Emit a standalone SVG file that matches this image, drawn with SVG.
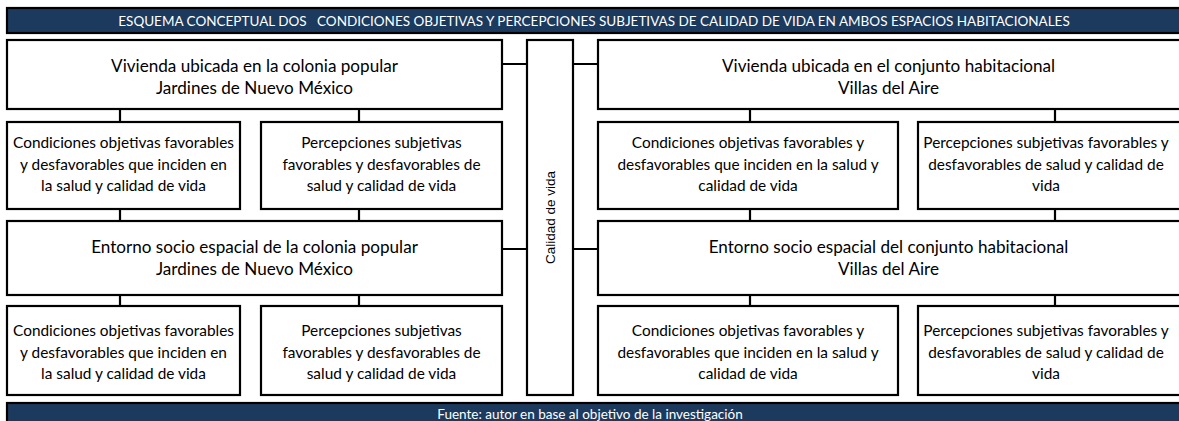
<svg xmlns="http://www.w3.org/2000/svg" width="1179" height="421" viewBox="0 0 1179 421">
<style>
.box{fill:#fff;stroke:#000;stroke-width:2.2}
.bar{fill:#1c3a5e;stroke:#000;stroke-width:2.2}
.conn{stroke:#000;stroke-width:2.2;fill:none}
.big{font-family:Lato,"Liberation Sans",sans-serif;font-size:17.1px;fill:#000;text-anchor:middle}
.small{font-family:Lato,"Liberation Sans",sans-serif;font-size:15.4px;fill:#000;text-anchor:middle}
.bartext{font-family:Lato,"Liberation Sans",sans-serif;font-size:13.5px;fill:#fff;text-anchor:middle}
.vert{font-family:"Liberation Sans",Arial,sans-serif;font-size:13.5px;fill:#000;text-anchor:middle}
</style>
<rect width="1179" height="421" fill="#fff"/>
<g id="header">
<rect class="bar" x="7" y="8" width="1175" height="25"/>
<text class="bartext" x="594" y="25.5" xml:space="preserve">ESQUEMA CONCEPTUAL DOS   CONDICIONES OBJETIVAS Y PERCEPCIONES SUBJETIVAS DE CALIDAD DE VIDA EN AMBOS ESPACIOS HABITACIONALES</text>
</g>
<g id="connectors">
<path class="conn" d="M120 109V122M359 109V122M120 209V221M359 209V221M120 295V306M359 295V306"/>
<path class="conn" d="M750 109V122M1055 109V122M750 209V221M1055 209V221M750 295V306M1055 295V306"/>
<path class="conn" d="M502 64H527M573 64H598M502 249H527M573 249H598"/>
</g>
<g id="vivienda-jardines">
<rect class="box" x="7" y="40" width="495" height="69"/>
<text class="big" x="254.5" y="72">Vivienda ubicada en la colonia popular</text>
<text class="big" x="254.5" y="94">Jardines de Nuevo México</text>
</g>
<g id="cond-vivienda-jardines">
<rect class="box" x="7" y="122" width="233" height="87"/>
<text class="small" x="123.5" y="148">Condiciones objetivas favorables</text>
<text class="small" x="123.5" y="169.5">y desfavorables que inciden en</text>
<text class="small" x="123.5" y="191">la salud y calidad de vida</text>
</g>
<g id="perc-vivienda-jardines">
<rect class="box" x="261" y="122" width="241" height="87"/>
<text class="small" x="381.5" y="148">Percepciones subjetivas</text>
<text class="small" x="381.5" y="169.5">favorables y desfavorables de</text>
<text class="small" x="381.5" y="191">salud y calidad de vida</text>
</g>
<g id="entorno-jardines">
<rect class="box" x="7" y="221" width="495" height="74"/>
<text class="big" x="254.5" y="253">Entorno socio espacial de la colonia popular</text>
<text class="big" x="254.5" y="275">Jardines de Nuevo México</text>
</g>
<g id="cond-entorno-jardines">
<rect class="box" x="7" y="306" width="233" height="89"/>
<text class="small" x="123.5" y="336">Condiciones objetivas favorables</text>
<text class="small" x="123.5" y="357.5">y desfavorables que inciden en</text>
<text class="small" x="123.5" y="379">la salud y calidad de vida</text>
</g>
<g id="perc-entorno-jardines">
<rect class="box" x="261" y="306" width="241" height="89"/>
<text class="small" x="381.5" y="336">Percepciones subjetivas</text>
<text class="small" x="381.5" y="357.5">favorables y desfavorables de</text>
<text class="small" x="381.5" y="379">salud y calidad de vida</text>
</g>
<g id="calidad-de-vida">
<rect class="box" x="527" y="40" width="46" height="355"/>
<text class="vert" transform="translate(554.5 217.5) rotate(-90)">Calidad de vida</text>
</g>
<g id="vivienda-villas">
<rect class="box" x="598" y="40" width="584" height="69"/>
<text class="big" x="888.5" y="72">Vivienda ubicada en el conjunto habitacional</text>
<text class="big" x="888.5" y="94">Villas del Aire</text>
</g>
<g id="cond-vivienda-villas">
<rect class="box" x="598" y="122" width="300" height="87"/>
<text class="small" x="748" y="148">Condiciones objetivas favorables y</text>
<text class="small" x="748" y="169.5">desfavorables que inciden en la salud y</text>
<text class="small" x="748" y="191">calidad de vida</text>
</g>
<g id="perc-vivienda-villas">
<rect class="box" x="918" y="122" width="264" height="87"/>
<text class="small" x="1046" y="148">Percepciones subjetivas favorables y</text>
<text class="small" x="1046" y="169.5">desfavorables de salud y calidad de</text>
<text class="small" x="1046" y="191">vida</text>
</g>
<g id="entorno-villas">
<rect class="box" x="598" y="221" width="584" height="74"/>
<text class="big" x="888.5" y="253">Entorno socio espacial del conjunto habitacional</text>
<text class="big" x="888.5" y="275">Villas del Aire</text>
</g>
<g id="cond-entorno-villas">
<rect class="box" x="598" y="306" width="300" height="89"/>
<text class="small" x="748" y="336">Condiciones objetivas favorables y</text>
<text class="small" x="748" y="357.5">desfavorables que inciden en la salud y</text>
<text class="small" x="748" y="379">calidad de vida</text>
</g>
<g id="perc-entorno-villas">
<rect class="box" x="918" y="306" width="264" height="89"/>
<text class="small" x="1046" y="336">Percepciones subjetivas favorables y</text>
<text class="small" x="1046" y="357.5">desfavorables de salud y calidad de</text>
<text class="small" x="1046" y="379">vida</text>
</g>
<g id="footer">
<rect class="bar" x="7" y="403" width="1175" height="25"/>
<text class="bartext" x="590" y="418.5">Fuente: autor en base al objetivo de la investigación</text>
</g>
</svg>
